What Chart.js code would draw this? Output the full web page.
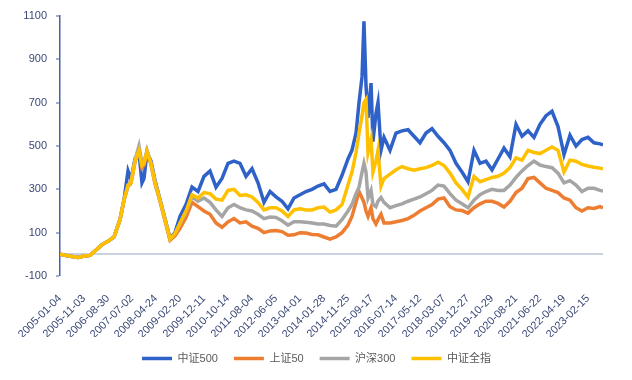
<!DOCTYPE html>
<html lang="zh">
<head>
  <meta charset="UTF-8">
  <title>中证500 / 上证50 / 沪深300 / 中证全指</title>
  <script src="https://cdn.jsdelivr.net/npm/chart.js"></script>
  <style>
    body { margin: 0; background: #fff; }
    .wrap { width: 632px; height: 380px; position: relative; }
  </style>
</head>
<body>
  <div class="wrap"><canvas id="c" width="632" height="380"></canvas></div>
  <script>
    // trading-day index of each sample (0 = 2005-01-04)
    const days = [0,50,100,150,200,250,300,350,400,450,500,533,567,592,625,658,683,700,725,758,
      792,833,875,917,958,1000,1050,1100,1150,1200,1250,1300,1350,1400,1450,1500,1550,1600,1650,1700,
      1750,1800,1850,1900,1950,2000,2050,2100,2150,2200,2250,2300,2350,2400,2433,2467,2492,2517,2533,2550,
      2567,2592,2608,2633,2650,2675,2700,2750,2800,2850,2900,2950,3000,3050,3100,3150,3200,3250,3300,3350,
      3400,3450,3500,3550,3600,3650,3700,3750,3800,3850,3900,3950,4000,4050,4100,4150,4200,4250,4300,4350,
      4400,4450,4500,4525];

    // tick labels, one every 200 trading days
    const dateLabels = ['2005-01-04','2005-11-03','2006-08-30','2007-07-02','2008-04-24','2009-02-20',
      '2009-12-11','2010-10-14','2011-08-04','2012-06-05','2013-04-01','2014-01-28','2014-11-25',
      '2015-09-17','2016-07-14','2017-05-12','2018-03-07','2018-12-27','2019-10-29','2020-08-21',
      '2021-06-22','2022-04-19','2023-02-15'];

    const seriesNames = ['中证500', '上证50', '沪深300', '中证全指'];

    // cumulative return (%)
    const zz500 = [0,-5,-10,-15,-8,-5,20,45,60,80,160,250,385,345,440,470,330,350,470,430,
      340,255,165,75,100,175,230,310,290,360,385,310,350,420,430,420,360,395,330,240,
      290,265,245,210,260,275,290,300,315,325,290,300,365,440,480,560,700,820,1075,780,
      630,790,520,650,700,480,540,480,560,570,575,545,515,560,580,545,515,480,420,380,
      335,480,420,430,390,440,490,450,600,545,570,540,600,640,660,590,460,550,500,530,
      540,515,510,505];
    const sz50 = [0,-5,-10,-15,-8,-5,20,45,60,80,160,250,315,330,425,480,400,410,470,415,
      325,245,155,65,85,120,170,240,220,200,185,145,125,150,165,145,150,130,120,100,
      108,110,105,88,90,100,98,92,90,80,70,80,100,135,175,240,290,260,240,200,
      175,215,165,140,160,185,145,145,150,156,165,180,200,215,230,255,260,220,205,202,
      190,215,233,245,245,235,218,245,285,305,350,355,330,305,295,285,260,250,215,200,
      215,212,220,215];
    const hs300 = [0,-5,-10,-15,-8,-5,20,45,60,80,160,250,320,335,435,500,420,425,480,420,
      330,250,160,70,95,140,195,265,245,260,240,205,175,215,230,215,205,200,185,165,
      172,170,155,135,150,150,148,145,140,140,133,130,160,200,230,280,310,380,420,380,
      260,295,230,220,245,262,240,215,225,233,245,255,265,280,295,320,315,280,250,233,
      215,250,275,290,300,295,295,320,355,385,410,430,412,405,400,375,330,340,320,290,
      305,305,295,292];
    const zzqz = [0,-5,-10,-15,-8,-5,20,45,60,80,160,250,320,330,430,480,410,420,475,420,
      330,250,160,70,95,145,200,275,260,285,280,255,250,295,300,272,275,265,240,205,
      215,215,200,175,205,210,205,205,215,218,195,205,230,320,380,470,560,640,700,715,
      470,530,380,430,480,315,350,370,390,405,395,388,395,400,410,425,410,375,330,300,
      264,360,335,345,355,360,375,400,445,435,480,470,465,480,495,480,380,435,430,415,
      408,402,398,395];

    const colors = ['#2f62c8', '#ed7d31', '#a5a5a5', '#ffc000'];
    const values = [zz500, sz50, hs300, zzqz];
    const axisText = '#3b4877';

    const datasets = seriesNames.map((name, i) => ({
      label: name,
      data: days.map((d, j) => ({ x: d, y: values[i][j] })),
      borderColor: colors[i],
      backgroundColor: colors[i],
      borderWidth: 3.5,
      pointRadius: 0,
      tension: 0,
      order: 4 - i // yellow on top
    }));

    // legend in the reference sits a bit right of the plot centre
    const shiftLegend = {
      id: 'shiftLegend',
      afterLayout(chart) {
        chart.legend.left += 15;
        chart.legend.right += 15;
      }
    };

    new Chart(document.getElementById('c'), {
      type: 'line',
      data: { datasets: datasets },
      plugins: [shiftLegend],
      options: {
        responsive: false,
        animation: false,
        layout: { padding: { left: 0, right: 29, top: 16, bottom: 6 } },
        plugins: {
          tooltip: { enabled: false },
          legend: {
            position: 'bottom',
            labels: {
              usePointStyle: true,
              pointStyle: 'line',
              pointStyleWidth: 30,
              padding: 16,
              color: '#595959',
              font: { size: 11, family: "'Liberation Sans', 'Noto Sans CJK SC', sans-serif" },
              sort: (a, b) => a.datasetIndex - b.datasetIndex
            }
          }
        },
        scales: {
          x: {
            type: 'linear',
            min: 0,
            max: 4525,
            grid: { display: false, drawTicks: false },
            border: { display: false },
            ticks: {
              stepSize: 200,
              autoSkip: false,
              includeBounds: false,
              minRotation: 45,
              maxRotation: 45,
              padding: 16,
              color: axisText,
              font: { size: 11, family: "'Liberation Sans', sans-serif" },
              callback: v => (v % 200 === 0 ? dateLabels[v / 200] : '')
            },
            afterFit: s => { s.height = 61; }
          },
          y: {
            min: -100,
            max: 1100,
            border: { color: '#4463a6', width: 1.5 },
            grid: {
              drawOnChartArea: true,
              tickLength: 4,
              color: c => (c.tick && c.tick.value === 0 ? '#c9d2de' : 'rgba(0,0,0,0)'),
              lineWidth: c => (c.tick && c.tick.value === 0 ? 2 : 0),
              tickColor: c => (c.tick && Math.abs(c.tick.value) % 200 === 100 ? '#4463a6' : 'rgba(0,0,0,0)'),
              tickWidth: 1
            },
            ticks: {
              stepSize: 100,
              padding: 9,
              color: axisText,
              font: { size: 11, family: "'Liberation Sans', sans-serif" },
              callback: v => (Math.abs(v) % 200 === 100 ? String(v) : '')
            },
            afterFit: s => { s.width = 60; }
          }
        }
      }
    });
  </script>
</body>
</html>
